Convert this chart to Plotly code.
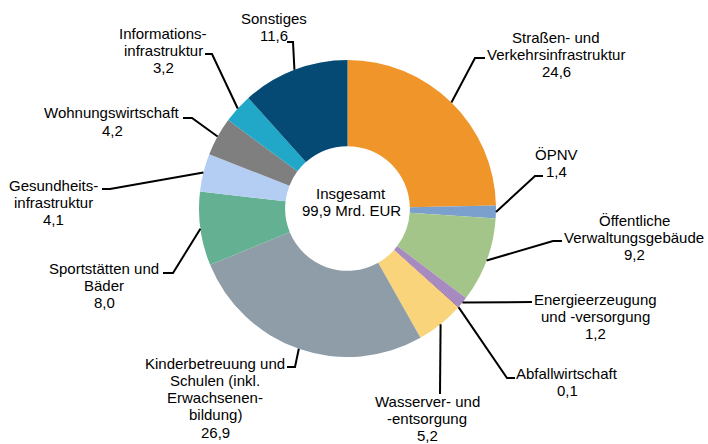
import math
import plotly.graph_objects as go

# ---------------- data ----------------
categories = [
    "Straßen- und Verkehrsinfrastruktur",
    "ÖPNV",
    "Öffentliche Verwaltungsgebäude",
    "Energieerzeugung und -versorgung",
    "Abfallwirtschaft",
    "Wasserver- und -entsorgung",
    "Kinderbetreuung und Schulen (inkl. Erwachsenenbildung)",
    "Sportstätten und Bäder",
    "Gesundheitsinfrastruktur",
    "Wohnungswirtschaft",
    "Informationsinfrastruktur",
    "Sonstiges",
]
values = [24.6, 1.4, 9.2, 1.2, 0.1, 5.2, 26.9, 8.0, 4.1, 4.2, 3.2, 11.6]
label_lines = [
    ["Straßen- und", "Verkehrsinfrastruktur"],
    ["ÖPNV"],
    ["Öffentliche", "Verwaltungsgebäude"],
    ["Energieerzeugung", "und -versorgung"],
    ["Abfallwirtschaft"],
    ["Wasserver- und", "-entsorgung"],
    ["Kinderbetreuung und", "Schulen (inkl.", "Erwachsenen-", "bildung)"],
    ["Sportstätten und", "Bäder"],
    ["Gesundheits-", "infrastruktur"],
    ["Wohnungswirtschaft"],
    ["Informations-", "infrastruktur"],
    ["Sonstiges"],
]
center_lines = ["Insgesamt", "99,9 Mrd. EUR"]

# ---------------- styling / layout ----------------
colors = ["#EF9529", "#7BA0CD", "#A4C589", "#A78BC0", "#8E5A8E", "#F9D47A",
          "#8F9DA8", "#63B192", "#B3CEF2", "#7F7F7F", "#21A7C7", "#044A75"]
W, H = 708, 444
CX, CY, R = 347.5, 208.5, 148.5   # pie centre and radius in pixels
HOLE = 0.42
FONT = "Liberation Sans, Arial, sans-serif"
FS = 15
LINE_H = 17.3

# per label: elbow point, end of leader, text centre x, first text line y (pixels)
label_layout = [
    ((475, 58), (485, 58), 556, 37),
    ((535, 176), (543, 176), 556, 154),
    ((553, 241), (562, 241), 634, 220),
    ((532, 302), (532, 302), 595, 299),
    ((507, 378), (515, 378), 567, 373),
    ((440, 394), (440, 394), 427, 401),
    ((295, 367), (287, 367), 215, 363),
    ((173, 273), (163, 273), 104, 268),
    ((110, 189), (102, 189), 53, 185),
    ((192, 118), (183, 118), 112, 113),
    ((212, 54), (205, 54), 163, 33),
    ((293, 42), (287, 42), 274, 18),
]


def px(x, y):
    return x / W, 1 - y / H


fig = go.Figure(go.Pie(
    labels=categories,
    values=values,
    sort=False,
    direction="clockwise",
    rotation=0,
    hole=HOLE,
    textinfo="none",
    marker=dict(colors=colors, line=dict(width=0)),
    domain=dict(x=[(CX - R) / W, (CX + R) / W],
                y=[1 - (CY + R) / H, 1 - (CY - R) / H]),
    showlegend=False,
))

shapes = []
annotations = []
total = sum(values)
cum = 0.0
for v, lines, (elbow, end, tx, ty) in zip(values, label_lines, label_layout):
    mid = (cum + v / 2) / total * 2 * math.pi
    cum += v
    sx = CX + R * math.sin(mid)
    sy = CY - R * math.cos(mid)
    p0 = px(sx, sy)
    p1 = px(*elbow)
    p2 = px(*end)
    shapes.append(dict(
        type="path", xref="paper", yref="paper",
        path=f"M {p0[0]} {p0[1]} L {p1[0]} {p1[1]} L {p2[0]} {p2[1]}",
        line=dict(color="black", width=2),
    ))
    all_lines = lines + [f"{v:.1f}".replace(".", ",")]
    for i, txt in enumerate(all_lines):
        ax_, ay_ = px(tx, ty + i * LINE_H)
        annotations.append(dict(
            x=ax_, y=ay_, xref="paper", yref="paper", text=txt,
            showarrow=False, xanchor="center", yanchor="middle",
            font=dict(family=FONT, size=FS, color="black"),
        ))

for i, txt in enumerate(center_lines):
    ax_, ay_ = px(351, 193 + i * 18)
    annotations.append(dict(
        x=ax_, y=ay_, xref="paper", yref="paper", text=txt,
        showarrow=False, xanchor="center", yanchor="middle",
        font=dict(family=FONT, size=FS, color="black"),
    ))

fig.update_layout(
    width=W, height=H,
    margin=dict(l=0, r=0, t=0, b=0),
    paper_bgcolor="white", plot_bgcolor="white",
    shapes=shapes, annotations=annotations,
    showlegend=False,
)

fig.write_html("out.html",
               config={"displayModeBar": False},
               post_script="document.body.style.margin='0';document.body.style.overflow='hidden';")
